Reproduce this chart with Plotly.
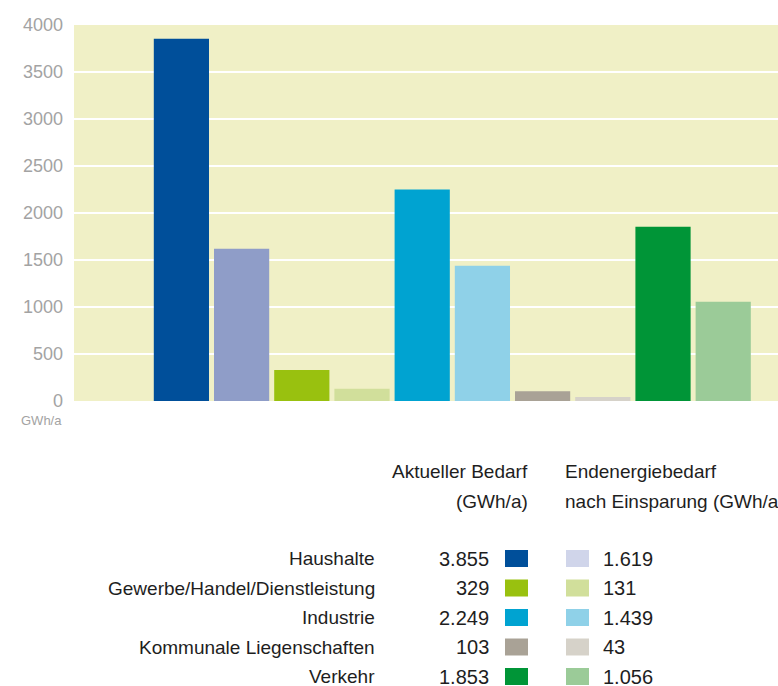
import plotly.graph_objects as go

# ---------------- data ----------------
categories = ["Haushalte", "Gewerbe/Handel/Dienstleistung", "Industrie",
              "Kommunale Liegenschaften", "Verkehr"]
aktuell = [3855, 329, 2249, 103, 1853]
einsparung = [1619, 131, 1439, 43, 1056]
colors_aktuell = ["#004f9a", "#99c10f", "#00a3d1", "#a9a296", "#009537"]
colors_einsparung_bar = ["#8f9dc8", "#d1df9b", "#8fd1e8", "#d6d2c9", "#9bcb98"]
colors_einsparung_legend = ["#d0d5ea", "#d1df9b", "#8fd1e8", "#d6d2c9", "#9bcb98"]
y_ticks = [0, 500, 1000, 1500, 2000, 2500, 3000, 3500, 4000]
header_aktuell = ["Aktueller Bedarf", "(GWh/a)"]
header_einsparung = ["Endenergiebedarf", "nach Einsparung (GWh/a)"]
unit_label = "GWh/a"

# ---------------- layout geometry ----------------
W, H = 778, 686
ML, MR, MT = 74, 0, 25
PLOT_BOTTOM = 401
MB = H - PLOT_BOTTOM
PW = W - ML - MR
PH = PLOT_BOTTOM - MT

FONT = "Liberation Sans, Arial, Helvetica, sans-serif"
TXT = "#1e1e1e"
GREY = "#a3a3a3"
TSIZE = 19
NSIZE = 20


def px_x(px):
    return (px - ML) / PW


def px_y(py):
    return (PLOT_BOTTOM - py) / PH


def de_num(v):
    return f"{v:,}".replace(",", ".")


fig = go.Figure()
fig.add_trace(go.Bar(x=categories, y=aktuell, marker=dict(color=colors_aktuell, line=dict(width=0)),
                     name=header_aktuell[0], showlegend=False, hoverinfo="skip"))
fig.add_trace(go.Bar(x=categories, y=einsparung, marker=dict(color=colors_einsparung_bar, line=dict(width=0)),
                     name=header_einsparung[0], showlegend=False, hoverinfo="skip"))

annotations = []
shapes = []

# unit label under the y axis
annotations.append(dict(xref="paper", yref="paper", x=px_x(64), y=px_y(421), text=unit_label,
                        showarrow=False, xanchor="right", yanchor="middle",
                        font=dict(family=FONT, size=13, color=GREY)))

# legend headers
for i, t in enumerate(header_aktuell):
    annotations.append(dict(xref="paper", yref="paper", x=px_x(530), y=px_y(471 + 30 * i), text=t,
                            showarrow=False, xanchor="right", yanchor="middle",
                            font=dict(family=FONT, size=TSIZE, color=TXT)))
for i, t in enumerate(header_einsparung):
    annotations.append(dict(xref="paper", yref="paper", x=px_x(563), y=px_y(471 + 30 * i), text=t,
                            showarrow=False, xanchor="left", yanchor="middle",
                            font=dict(family=FONT, size=TSIZE, color=TXT)))

# legend rows
row0, dy = 558.5, 29.5
for i, cat in enumerate(categories):
    yc = row0 + dy * i
    annotations.append(dict(xref="paper", yref="paper", x=px_x(377), y=px_y(yc), text=cat,
                            showarrow=False, xanchor="right", yanchor="middle",
                            font=dict(family=FONT, size=TSIZE, color=TXT)))
    annotations.append(dict(xref="paper", yref="paper", x=px_x(491), y=px_y(yc), text=de_num(aktuell[i]),
                            showarrow=False, xanchor="right", yanchor="middle",
                            font=dict(family=FONT, size=NSIZE, color=TXT)))
    annotations.append(dict(xref="paper", yref="paper", x=px_x(601), y=px_y(yc), text=de_num(einsparung[i]),
                            showarrow=False, xanchor="left", yanchor="middle",
                            font=dict(family=FONT, size=NSIZE, color=TXT)))
    shapes.append(dict(type="rect", xref="paper", yref="paper",
                       x0=px_x(505), x1=px_x(528), y0=px_y(yc + 8.5), y1=px_y(yc - 8.5),
                       fillcolor=colors_aktuell[i], line=dict(width=0)))
    shapes.append(dict(type="rect", xref="paper", yref="paper",
                       x0=px_x(566), x1=px_x(589), y0=px_y(yc + 8.5), y1=px_y(yc - 8.5),
                       fillcolor=colors_einsparung_legend[i], line=dict(width=0)))

fig.update_layout(
    width=W, height=H,
    margin=dict(l=ML, r=MR, t=MT, b=MB, pad=0),
    paper_bgcolor="white",
    plot_bgcolor="#f0f0c6",
    barmode="group",
    bargap=0,
    bargroupgap=0.083,
    font=dict(family=FONT),
    hovermode=False,
    xaxis=dict(range=[-1.142, 4.705], showticklabels=False, showgrid=False, zeroline=False,
               showline=False, ticks="", fixedrange=True),
    yaxis=dict(range=[0, 4000], tickvals=y_ticks, ticktext=[str(v) for v in y_ticks],
               showgrid=True, gridcolor="white", gridwidth=2, zeroline=False, showline=False,
               ticks="", ticklabelstandoff=10, fixedrange=True,
               tickfont=dict(family=FONT, size=18, color=GREY)),
    annotations=annotations,
    shapes=shapes,
    showlegend=False,
)

fig.write_html("out.html",
               config={"displayModeBar": False, "staticPlot": True},
               post_script="document.body.style.margin='0';document.body.style.overflow='hidden';")
